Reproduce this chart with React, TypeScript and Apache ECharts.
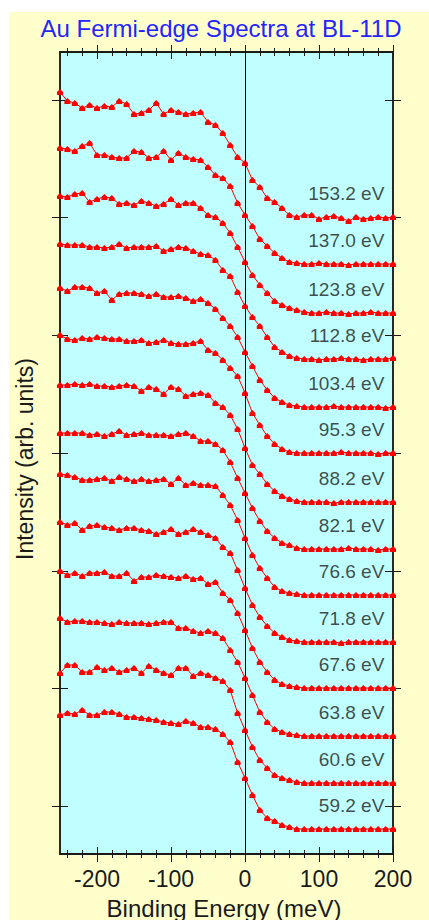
import React, { useEffect, useRef } from "react";
import * as echarts from "echarts";

// Binding energies (meV) of the sampled points
const energies = [
  -250, -240, -230, -220, -210, -200, -190, -180, -170, -160,
  -150, -140, -130, -120, -110, -100, -90, -80, -70, -60,
  -50, -40, -30, -20, -10, 0, 10, 20, 30, 40,
  50, 60, 70, 80, 90, 100, 110, 120, 130, 140,
  150, 160, 170, 180, 190, 200,
];

const photonLabels = [
  "153.2 eV", "137.0 eV", "123.8 eV", "112.8 eV", "103.4 eV", "95.3 eV", "88.2 eV",
  "82.1 eV", "76.6 eV", "71.8 eV", "67.6 eV", "63.8 eV", "60.6 eV", "59.2 eV",
];

// vertical offsets of each spectrum (arb. units)
const offsets = [637, 590, 541, 495, 447, 401, 352, 305, 259, 212, 166, 118, 71, 25];

// intensity above each spectrum's offset (arb. units)
const s1532 = [125,116,114,109,112,109,111,110,116,113, 103,104,107,114,103,107,105,103,104,105, 95,92,84,72,60,54,37,30,19,15, 9,2,0,2,2,-2,0,1,-1,-4, 0,-2,-1,0,-1,0];
const s1370 = [116,115,113,118,121,109,109,107,106,106, 113,112,106,107,113,104,111,107,105,104, 97,89,86,78,61,49,38,25,18,11, 6,2,1,0,0,1,0,0,0,-1, 0,0,0,0,0,0];
const s1238 = [117,116,119,120,111,114,116,115,109,110, 108,112,110,107,109,114,108,110,110,105, 98,96,90,80,66,51,38,28,20,12, 8,5,3,1,0,0,1,0,0,-1, 0,0,1,0,0,0];
const s1128 = [115,114,114,114,112,112,111,112,115,111, 112,112,112,113,108,110,112,111,108,105, 104,99,89,83,67,53,42,33,22,12, 7,3,1,0,0,-1,0,0,1,0, 0,-1,0,0,0,1];
const s1034 = [119,116,120,120,119,114,116,107,113,114, 114,113,111,113,110,110,111,109,106,108, 104,98,89,81,70,55,41,27,17,9, 5,2,1,0,0,0,0,1,0,0, 0,0,0,0,-1,0];
const s953 = [118,114,113,115,114,116,115,114,114,112, 112,113,110,111,113,110,109,109,110,112, 103,100,93,85,77,60,40,28,17,9, 4,1,0,0,0,0,0,0,1,0, 0,0,0,-1,0,0];
const s882 = [117,117,118,117,118,116,116,115,116,117, 116,111,115,113,108,115,113,106,108,109, 107,99,95,87,73,54,37,28,18,11, 6,3,1,0,0,0,0,-1,0,0, 0,0,0,0,0,0];
const s821 = [116,116,116,116,114,115,113,115,118,114, 115,116,114,114,114,113,115,116,113,108, 108,105,99,87,71,56,41,28,18,11, 6,4,1,0,0,0,0,0,0,1, 0,0,0,-1,0,0];
const s766 = [121,120,118,115,115,116,117,114,118,116, 114,116,114,115,116,111,117,110,112,110, 110,109,100,90,75,57,40,27,17,8, 4,2,1,0,0,0,0,0,0,0, 0,0,0,0,0,0];
const s718 = [120,117,119,112,116,117,115,114,112,114, 114,112,111,108,110,113,108,110,113,110, 107,104,95,89,72,54,37,25,16,9, 5,2,1,0,0,0,0,0,-1,0, 0,0,0,0,0,0];
const s676 = [117,113,115,112,115,115,116,112,112,115, 107,111,111,113,112,111,110,112,109,110, 104,106,95,88,75,58,40,26,16,8, 4,2,1,0,0,0,0,0,0,0, 0,0,0,0,0,0];
const s638 = [118,114,115,115,114,114,113,112,114,113, 113,113,112,113,114,114,108,108,105,103, 105,103,98,86,74,58,41,24,14,7, 4,2,1,0,0,0,0,0,0,0, 0,0,0,0,0,0];
const s606 = [110,118,118,111,111,116,113,115,111,113, 115,110,117,113,110,108,115,115,107,110, 108,105,102,93,70,53,36,23,15,8, 5,3,1,0,0,0,0,0,0,0, 0,0,0,0,0,0];
const s592 = [114,116,115,119,114,114,117,117,115,112, 112,111,110,109,107,106,105,108,106,102, 102,100,95,87,67,51,34,19,11,8, 4,2,0,0,0,0,0,0,0,0, 0,0,0,0,0,0];

const spectra = [s1532, s1370, s1238, s1128, s1034, s953, s882, s821, s766, s718, s676, s638, s606, s592];

const xMajorTicks = [-200, -100, 0, 100, 200];
const xMinorTicks = [-240, -220, -200, -180, -160, -140, -120, -100, -80, -60, -40, -20, 0, 20, 40, 60, 80, 100, 120, 140, 160, 180, 200];
const yTicks = [47.8, 165.5, 283.2, 400.9, 518.6, 636.3, 754];

const FONT = "'Liberation Sans', Arial, sans-serif";
const INK = "#1a1a1a";

export default function App() {
  const ref = useRef<HTMLDivElement>(null);

  useEffect(() => {
    const chart = echarts.init(ref.current!, null, { renderer: "svg" });

    const xAxis = (pos: string, ticks: number[], inside: boolean, len: number, labels: boolean) => ({
      type: "value",
      position: pos,
      min: -250,
      max: 200,
      axisLine: { show: true, onZero: false, lineStyle: { color: INK, width: 1.5 } },
      axisTick: { show: true, inside, length: len, customValues: ticks, lineStyle: { color: INK, width: 1 } },
      axisLabel: labels
        ? { show: true, customValues: xMajorTicks, fontSize: 23, color: INK, fontFamily: FONT, margin: 13 }
        : { show: false },
      splitLine: { show: false },
    });

    const yAxis = (pos: string, inside: boolean) => ({
      type: "value",
      position: pos,
      min: 0,
      max: 802,
      axisLine: { show: true, onZero: false, lineStyle: { color: INK, width: 1.5 } },
      axisTick: { show: true, inside, length: 8, customValues: yTicks, lineStyle: { color: INK, width: 1 } },
      axisLabel: { show: false },
      splitLine: { show: false },
    });

    const house = "path://M0,-1L1,0L1,1L-1,1L-1,0Z";

    const lineSeries = spectra.map((s, i) => ({
      type: "line",
      xAxisIndex: 0,
      yAxisIndex: 0,
      data: energies.map((e, j) => [e, offsets[i] + s[j]]),
      symbol: house,
      symbolSize: 6,
      showSymbol: true,
      itemStyle: { color: "#ff0000" },
      lineStyle: { color: "#ff0000", width: 1 },
      z: 3,
      ...(i === 0
        ? {
            markLine: {
              silent: true,
              symbol: ["none", "none"],
              label: { show: false },
              lineStyle: { color: "#000", width: 1, type: "solid" },
              data: [{ xAxis: 0 }],
            },
          }
        : {}),
    }));

    const labelSeries = {
      type: "scatter",
      xAxisIndex: 0,
      yAxisIndex: 0,
      symbolSize: 1,
      itemStyle: { color: "rgba(0,0,0,0)" },
      z: 4,
      data: photonLabels.map((t, i) => ({
        value: [189, offsets[i] + 24],
        label: {
          show: true,
          position: "left",
          distance: 0,
          formatter: t,
          fontSize: 19,
          color: INK,
          fontFamily: FONT,
        },
      })),
    };

    chart.setOption({
      animation: false,
      backgroundColor: "#ffffcc",
      grid: {
        left: 51,
        right: 36,
        top: 40,
        bottom: 66,
        show: true,
        backgroundColor: "#c0ffff",
        borderWidth: 0,
      },
      xAxis: [
        xAxis("bottom", xMajorTicks, false, 8, true),
        xAxis("bottom", xMajorTicks, true, 7, false),
        xAxis("bottom", xMinorTicks, false, 4, false),
        xAxis("bottom", xMinorTicks, true, 4, false),
        xAxis("top", xMajorTicks, false, 7, false),
        xAxis("top", xMajorTicks, true, 7, false),
        xAxis("top", xMinorTicks, false, 4, false),
        xAxis("top", xMinorTicks, true, 4, false),
      ],
      yAxis: [yAxis("left", false), yAxis("left", true), yAxis("right", false), yAxis("right", true)],
      graphic: [
        {
          type: "text",
          x: 212,
          y: 4,
          style: {
            text: "Au Fermi-edge Spectra at BL-11D",
            fill: "#2424ff",
            fontSize: 24,
            fontFamily: FONT,
            align: "center",
            verticalAlign: "top",
          },
        },
        {
          type: "text",
          x: 215,
          y: 884,
          style: {
            text: "Binding Energy (meV)",
            fill: INK,
            fontSize: 24,
            fontFamily: FONT,
            align: "center",
            verticalAlign: "top",
          },
        },
        {
          type: "text",
          x: 16,
          y: 447,
          rotation: Math.PI / 2,
          style: {
            text: "Intensity (arb. units)",
            fill: INK,
            fontSize: 23,
            fontFamily: FONT,
            align: "center",
            verticalAlign: "middle",
          },
        },
      ],
      series: [...lineSeries, labelSeries],
    });

    return () => chart.dispose();
  }, []);

  return (
    <div
      ref={ref}
      style={{ position: "fixed", left: 9, top: 12, width: 420, height: 908, background: "#ffffcc" }}
    />
  );
}
